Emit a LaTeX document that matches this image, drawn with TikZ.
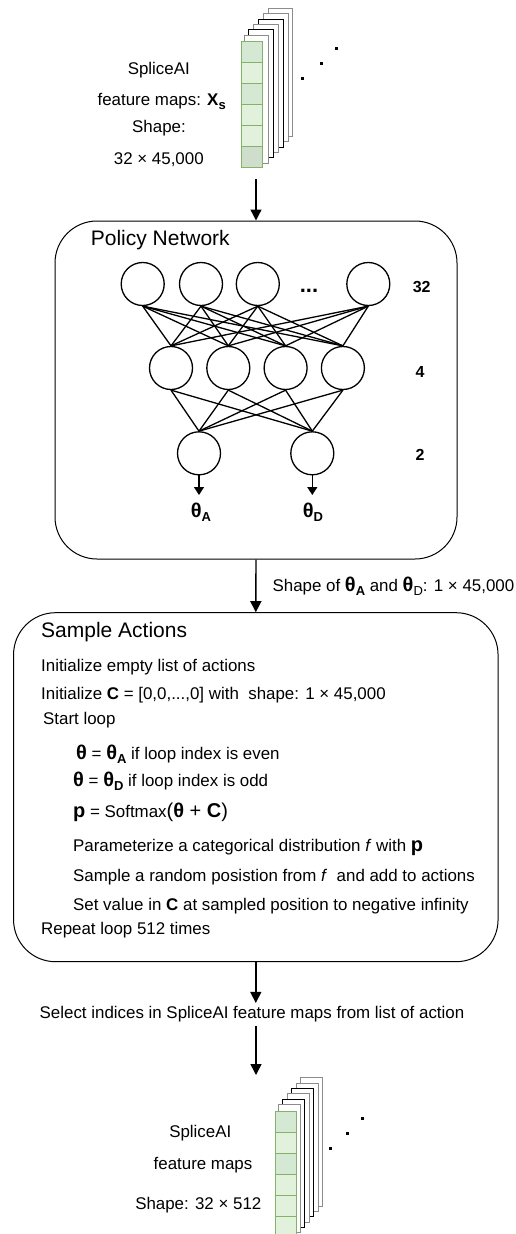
\documentclass[tikz,border=0pt]{standalone}
\usepackage{fontspec}
\setmainfont{Liberation Sans}
\usetikzlibrary{arrows.meta,positioning,calc}
\definecolor{cellgreen}{RGB}{213,232,212}
\definecolor{cellpale}{RGB}{225,241,220}
\definecolor{cellgray}{RGB}{206,221,204}
\definecolor{celledge}{RGB}{130,179,102}
\definecolor{sheetgray}{RGB}{140,140,140}
\newcommand{\lowsub}[1]{\raisebox{-0.45ex}{\fontsize{13}{13}\selectfont\bfseries #1}}
\newcommand{\bigth}{{\fontsize{20}{20}\selectfont\bfseries θ}}

\begin{document}
\begin{tikzpicture}[x=1pt, y=-1pt, node distance=13pt and 13pt,
	neuron/.style={draw, circle, minimum size=43pt, inner sep=0pt, line width=1.3pt},
	link/.style={line width=1.3pt},
	flowArrow/.style={line width=1.4pt, -{Triangle[length=11pt, width=11pt]}},
	outArrow/.style={line width=1.3pt, -{Triangle[length=8pt, width=10pt]}},
	panel/.style={draw, rounded corners=42pt, line width=1pt},
	word/.style={inner sep=0pt, font=\fontsize{16.9}{19}\selectfont},
	stepline/.style={word, anchor=west},
	heading/.style={inner sep=0pt, anchor=west, font=\fontsize{21}{24}\selectfont},
	layer/.style={inner sep=0pt, font=\fontsize{16}{19}\selectfont\bfseries},
	sheet/.style={fill=white, line width=0.9pt},
	cell/.style={draw=celledge, line width=0.9pt}
	]
	\useasboundingbox (0,0) rectangle (516,1234);
	\clip (0,0) rectangle (516,1234);

	% input feature maps
	\foreach \i/\c in {5/sheetgray,4/sheetgray,3/black,2/sheetgray,1/black,0/sheetgray}
		\draw[sheet, draw=\c] (244+4.9*\i, 35-5.3*\i) rectangle ++(24.4,128);
	\foreach \i/\c in {0/cellgreen,1/cellpale,2/cellgreen,3/cellpale,4/cellpale,5/cellgray}
		\draw[cell, fill=\c] (241, 41+21.1*\i) rectangle ++(21.3,21.1);
	\foreach \p in {(302.3,78.3),(321,63),(336,48.3)}
		\fill \p ++(-1.5,-1.5) rectangle ++(3,3);
	\node[word](xsname) at (158.8,70) {SpliceAI};
	\node[word](xsmaps) at (161.7,101.7) {feature maps: \textbf{X}\lowsub{s}};
	\node[word](xsshape) at (159,127.7) {Shape:};
	\node[word](xssize) at (158.8,159.3) {32 × 45,000};
	\coordinate (xsout) at (256,179);

	% policy network
	\node[panel, minimum width=402pt, minimum height=338pt](policy) at (256,390) {};
	\node[heading](policytitle) at (90.7,240) {Policy Network};
	\draw [flowArrow] (xsout) -- (policy.north);

	\node[neuron](in1) at (142.7,284) {};
	\node[neuron, right = 14pt of in1](in2) {};
	\node[neuron, right = 12.5pt of in2](in3) {};
	\node[neuron](in4) at (368.3,284) {};
	\node[layer, font=\fontsize{22}{22}\selectfont\bfseries](indots) at (309,291) {...};

	\node[neuron](h1) at (171,368) {};
	\node[neuron, right = of h1](h2) {};
	\node[neuron, right = of h2](h3) {};
	\node[neuron, right = of h3](h4) {};

	\node[neuron](outA) at (199,453.3) {};
	\node[neuron, right = 69pt of outA](outD) {};

	\node[layer](n32) at (421.7,286.7) {32};
	\node[layer](n4) at (420,371.7) {4};
	\node[layer](n2) at (420,455) {2};

	\foreach \a in {in1,in2,in3,in4}
		\foreach \b in {h1,h2,h3,h4}
			\draw [link] (\a.south) -- (\b.north);
	\foreach \a in {h1,h2,h3,h4}
		\foreach \b in {outA,outD}
			\draw [link] (\a.south) -- (\b.north);

	\node[word, anchor=north](thetaA) at (201,503) {\bigth\lowsub{A}};
	\node[word, anchor=north](thetaD) at (313,503) {\bigth\lowsub{D}};
	\draw [outArrow] (outA.south) -- ([yshift=8pt]outA.south |- thetaA.north);
	\draw [outArrow] (outD.south) -- ([yshift=8pt]outD.south |- thetaD.north);

	% sample actions
	\node[panel, minimum width=484.5pt, minimum height=349pt](sample) at (255.8,787.2) {};
	\draw [flowArrow] (policy.south) -- (sample.north)
		node[word, midway, anchor=west, xshift=16pt] {Shape of \bigth\lowsub{A} and \bigth\raisebox{-0.45ex}{\fontsize{13}{13}\selectfont D}: 1 × 45,000};

	\node[heading](sampletitle) at (41,631.7) {Sample Actions};
	\node[stepline](s1) at (41,667) {Initialize empty list of actions};
	\node[stepline](s2) at (41,695) {Initialize \textbf{C} = [0,0,...,0] with\ \ shape: 1 × 45,000};
	\node[stepline](s3) at (43,720) {Start loop};
	\node[stepline](s4) at (76,754.3) {\bigth{} = \bigth\lowsub{A} if loop index is even};
	\node[stepline](s5) at (73,781) {\bigth{} = \bigth\lowsub{D} if loop index is odd};
	\node[stepline](s6) at (73,812.3) {{\fontsize{20}{20}\selectfont\bfseries p} = Softmax{\fontsize{20}{20}\selectfont(\textbf{θ} + \textbf{C})}};
	\node[stepline](s7) at (73,847.3) {Parameterize a categorical distribution \textit{f} with {\fontsize{20}{20}\selectfont\bfseries p}};
	\node[stepline](s8) at (73,877.3) {Sample a random posistion from \textit{f}\ \ and add to actions};
	\node[stepline](s9) at (73,906) {Set value in \textbf{C} at sampled position to negative infinity};
	\node[stepline](s10) at (41,930) {Repeat loop 512 times};

	% selected feature maps
	\node[word](select) at (252,1014) {Select indices in SpliceAI feature maps from list of action};
	\coordinate (selout) at (256,1075);
	\draw [flowArrow] (sample.south) -- ([yshift=3pt]sample.south |- select.north);
	\draw [flowArrow] ([yshift=-4pt]selout |- select.south) -- (selout);

	\foreach \i/\c in {5/sheetgray,4/sheetgray,3/black,2/sheetgray,1/black,0/sheetgray}
		\draw[sheet, draw=\c] (278.3+4.5*\i, 1104.3-5.3*\i) rectangle ++(21.7,128.3);
	\foreach \i/\c in {0/cellgreen,1/cellpale,2/cellgreen,3/cellpale,4/cellpale,5/cellpale,6/cellpale}
		\draw[cell, fill=\c] (275.3, 1111+21*\i) rectangle ++(21.4,21);
	\foreach \p in {(330.7,1148.3),(347.7,1133.3),(362.7,1118.3)}
		\fill \p ++(-1.5,-1.5) rectangle ++(3,3);
	\node[word](outname) at (200.3,1133.3) {SpliceAI};
	\node[word](outmaps) at (203,1165) {feature maps};
	\node[word](outshape) at (198.3,1205) {Shape: 32 × 512};
\end{tikzpicture}
\end{document}
